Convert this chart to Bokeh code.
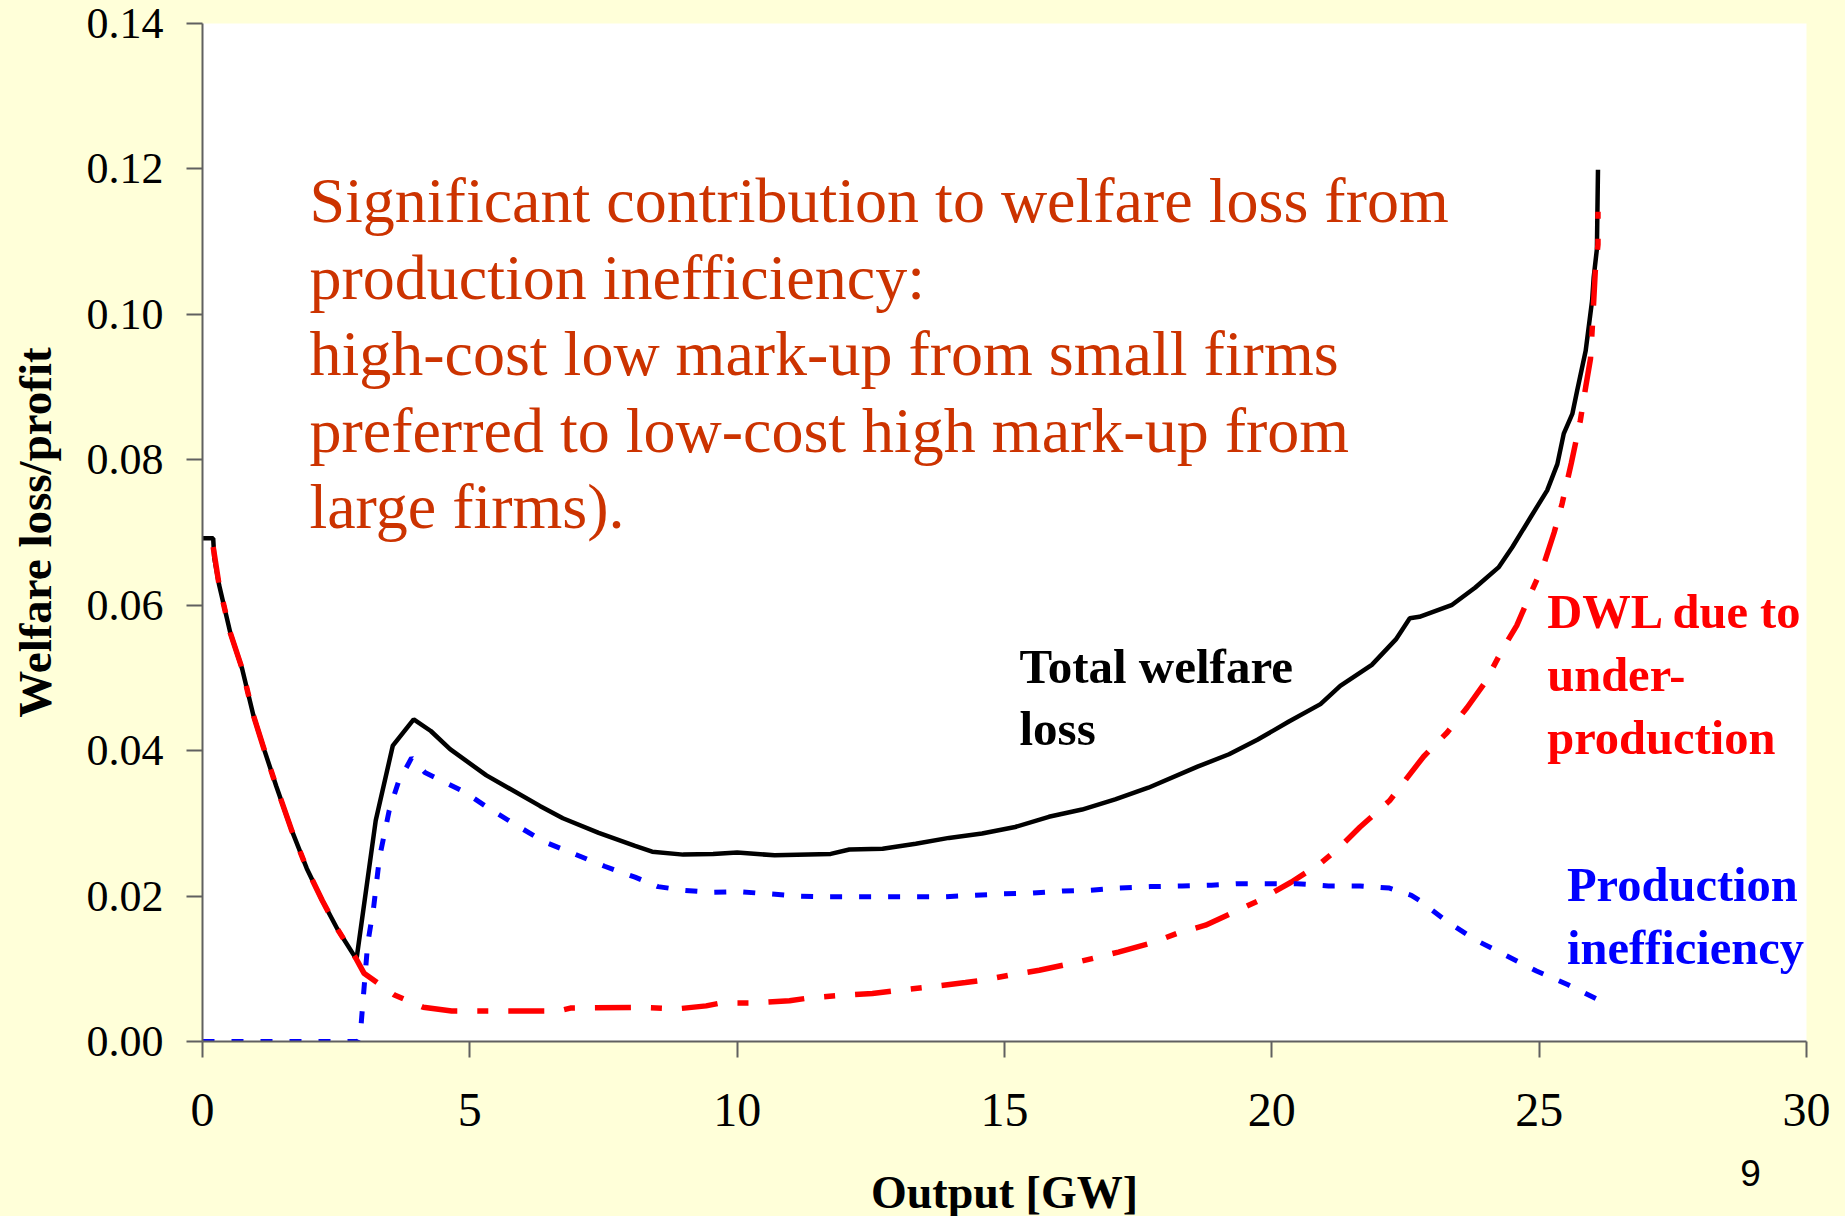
from bokeh.plotting import figure
from bokeh.models import Range1d, FixedTicker, NumeralTickFormatter, ColumnDataSource, Label
from bokeh.core.properties import value
from bokeh.embed import file_html
from bokeh.resources import INLINE

# ---------------- data ----------------
total_x = [0.0, 0.2, 0.22, 0.31, 0.52, 0.74, 0.95, 1.16, 1.38, 1.66, 1.95, 2.24, 2.52, 2.88,
           3.24, 3.56, 3.95, 4.27, 4.63, 5.31, 6.31, 6.74, 7.41, 8.09, 8.41, 8.99, 9.55, 10.0,
           10.7, 11.75, 12.1, 12.72, 13.34, 13.96, 14.58, 15.2, 15.83, 16.45, 17.07, 17.69,
           18.61, 19.2, 19.73, 20.32, 20.91, 21.28, 21.87, 22.32, 22.58, 22.76, 23.36, 23.8,
           24.24, 24.5, 24.84, 25.15, 25.34, 25.46, 25.62, 25.71, 25.87, 25.99, 26.02, 26.08, 26.10]
total_y = [0.0692, 0.0692, 0.0665, 0.0628, 0.0562, 0.0513, 0.0449, 0.0400, 0.0351, 0.0292, 0.0238,
           0.0194, 0.0155, 0.0113, 0.0304, 0.0407, 0.0443, 0.0427, 0.0402, 0.0366, 0.0324, 0.0307,
           0.0287, 0.0269, 0.0261, 0.0257, 0.0258, 0.0260, 0.0256, 0.0258, 0.0264, 0.0265, 0.0272,
           0.0280, 0.0286, 0.0295, 0.0309, 0.0319, 0.0333, 0.0349, 0.0378, 0.0395, 0.0415, 0.0440,
           0.0464, 0.0489, 0.0518, 0.0553, 0.0582, 0.0584, 0.0600, 0.0624, 0.0652, 0.0680, 0.0721,
           0.0758, 0.0794, 0.0836, 0.0863, 0.0895, 0.0950, 0.1019, 0.1051, 0.1090, 0.1199]

dwl_x = [0.2, 0.31, 0.52, 0.74, 0.95, 1.16, 1.38, 1.66, 1.95, 2.24, 2.52, 2.88, 3.02, 3.59, 4.13,
         4.66, 6.66, 6.88, 8.16, 8.89, 9.42, 9.7, 10.32, 10.98, 11.35, 11.85, 12.53, 12.97, 13.46,
         14.27, 14.58, 15.08, 15.65, 16.17, 16.69, 17.13, 17.73, 18.24, 18.76, 19.32, 19.76, 20.36,
         20.91, 21.28, 21.65, 22.2, 22.46, 22.84, 23.28, 23.65, 23.99, 24.32, 24.58, 24.84, 25.09,
         25.28, 25.43, 25.6, 25.77, 25.87, 25.96, 26.0, 26.05, 26.10, 26.10]
dwl_y = [0.0680, 0.0628, 0.0562, 0.0513, 0.0449, 0.0400, 0.0351, 0.0292, 0.0238, 0.0194, 0.0155,
         0.0113, 0.0094, 0.0064, 0.0047, 0.0042, 0.0042, 0.0046, 0.0047, 0.0045, 0.0049, 0.0053,
         0.0053, 0.0056, 0.0060, 0.0063, 0.0066, 0.0070, 0.0074, 0.0081, 0.0084, 0.0091, 0.0098,
         0.0106, 0.0115, 0.0123, 0.0135, 0.0149, 0.0160, 0.0179, 0.0194, 0.0219, 0.0245, 0.0268,
         0.0295, 0.0331, 0.0356, 0.0392, 0.0425, 0.0459, 0.0494, 0.0540, 0.0572, 0.0616, 0.0657,
         0.0700, 0.0740, 0.0795, 0.0854, 0.0900, 0.0939, 0.0990, 0.1060, 0.1096, 0.1141]

prod_x = [0.0, 2.9, 2.95, 3.0, 3.09, 3.2, 3.31, 3.49, 3.66, 3.91, 4.16, 4.88, 5.39, 5.88, 6.38,
          6.95, 7.52, 8.09, 8.52, 8.99, 9.51, 10.04, 10.6, 11.13, 11.72, 12.75, 13.84, 14.43,
          14.96, 15.52, 16.1, 16.61, 17.13, 17.73, 18.32, 18.87, 19.36, 19.95, 20.47, 21.06,
          21.65, 22.2, 22.61, 22.76, 23.24, 23.8, 24.39, 24.95, 25.54, 26.06]
prod_y = [0.0, 0.0, 0.0008, 0.0054, 0.0135, 0.0184, 0.0253, 0.0317, 0.0356, 0.0390, 0.0370,
          0.0344, 0.0319, 0.0297, 0.0275, 0.0258, 0.0241, 0.0226, 0.0213, 0.0208, 0.0205, 0.0206,
          0.0203, 0.0200, 0.0199, 0.0199, 0.0199, 0.0201, 0.0203, 0.0204, 0.0207, 0.0208, 0.0211,
          0.0213, 0.0214, 0.0215, 0.0217, 0.0217, 0.0217, 0.0214, 0.0214, 0.0211, 0.0201, 0.0194,
          0.0167, 0.0140, 0.0118, 0.0097, 0.0078, 0.0059]

x_ticks = [0, 5, 10, 15, 20, 25, 30]
y_ticks = [0.0, 0.02, 0.04, 0.06, 0.08, 0.10, 0.12, 0.14]

note_lines = ["Significant contribution to welfare loss from",
              "production inefficiency:",
              "high-cost low mark-up from small firms",
              "preferred to low-cost high mark-up from",
              "large firms)."]
total_lines = ["Total welfare", "loss"]
dwl_lines = ["DWL due to", "under-", "production"]
prod_lines = ["Production", "inefficiency"]
slide_number = "9"

# ---------------- figure ----------------
BG = "#FFFFD9"
SERIF = "Liberation Serif"

p = figure(frame_width=1604, frame_height=1018, output_backend="svg", toolbar_location=None,
           x_range=Range1d(0, 30), y_range=Range1d(0, 0.14),
           min_border_left=202, min_border_right=30, min_border_top=23, min_border_bottom=174)
p.background_fill_color = "white"
p.border_fill_color = BG
p.outline_line_color = None
p.grid.visible = False

for ax in (p.xaxis[0], p.yaxis[0]):
    ax.axis_line_color = "#606060"
    ax.axis_line_width = 2
    ax.major_tick_line_color = "#606060"
    ax.major_tick_line_width = 2
    ax.major_tick_in = 0
    ax.major_tick_out = 16
    ax.minor_tick_line_color = None
    ax.major_label_text_font = SERIF
    ax.major_label_text_color = "black"
    ax.axis_label_text_font = SERIF
    ax.axis_label_text_font_style = "bold"
    ax.axis_label_text_color = "black"

p.xaxis.ticker = FixedTicker(ticks=x_ticks)
p.yaxis.ticker = FixedTicker(ticks=y_ticks)
p.yaxis.formatter = NumeralTickFormatter(format="0.00")
p.xaxis.major_label_text_font_size = "48px"
p.yaxis.major_label_text_font_size = "44px"
p.xaxis.major_label_standoff = 36
p.yaxis.major_label_standoff = 23
p.xaxis.axis_label = "Output [GW]"
p.yaxis.axis_label = "Welfare loss/profit"
p.xaxis.axis_label_text_font_size = "46px"
p.yaxis.axis_label_text_font_size = "47px"
p.xaxis.axis_label_standoff = 38
p.yaxis.axis_label_standoff = 23

# ---------------- series ----------------
p.line(total_x, total_y, line_color="black", line_width=4.5)
p.line(dwl_x, dwl_y, line_color="#FF0000", line_width=5.5, line_dash="36 20 11 20")
p.line(prod_x, prod_y, line_color="#0000FF", line_width=5, line_dash="12 17")

# ---------------- texts ----------------
def add_lines(lines, x0, y0, dy, color, size, style):
    src = ColumnDataSource(dict(x=[x0] * len(lines),
                                y=[y0 - i * dy for i in range(len(lines))],
                                t=lines))
    p.text(x="x", y="y", text="t", source=src, text_color=color,
           text_font=value(SERIF), text_font_size=size, text_font_style=style,
           text_align="left", text_baseline="alphabetic")

add_lines(note_lines, 2.0, 0.1156, 0.01052, "#CC3300", "64px", "normal")
add_lines(total_lines, 15.28, 0.0516, 0.0086, "black", "49px", "bold")
add_lines(dwl_lines, 25.15, 0.0592, 0.0087, "#FF0000", "48.5px", "bold")
add_lines(prod_lines, 25.52, 0.0216, 0.0087, "#0000FF", "48.5px", "bold")

# slide number, in the border area (side-panel annotation so it is not clipped to the frame)
p.add_layout(Label(x=1750, y=1172, x_units="canvas", y_units="canvas", text=slide_number,
                   text_font="Liberation Sans", text_font_size="37px", text_color="black",
                   text_align="center", text_baseline="alphabetic"), "right")

html = file_html(p, INLINE, title="Welfare loss")
html = html.replace("<head>", "<head><style>html,body{background:%s;}</style>" % BG, 1)
open("out.html", "w").write(html)
